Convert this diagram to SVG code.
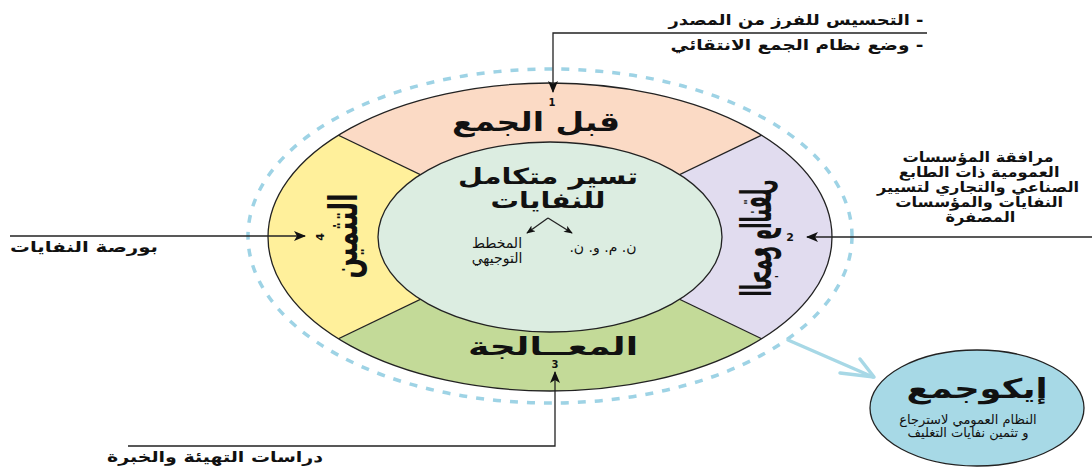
<svg xmlns="http://www.w3.org/2000/svg" width="1092" height="470" viewBox="0 0 1092 470">
<style>
text{font-family:"DejaVu Sans",sans-serif;fill:#111;}
.b{font-weight:bold;}
.ln{stroke:#222;stroke-width:1.3;fill:none;}
.seg{stroke:none;}
.div{stroke:#222;stroke-width:1.2;}
</style>
<defs>
<clipPath id="outerClip"><ellipse cx="550" cy="237" rx="282" ry="154"/></clipPath>
<marker id="ah" viewBox="0 0 12 10" refX="11" refY="5" markerWidth="12" markerHeight="10" markerUnits="userSpaceOnUse" orient="auto">
<path d="M0,0 L12,5 L0,10 L3,5 z" fill="#111"/>
</marker>
<marker id="ahs" viewBox="0 0 10 8" refX="9" refY="4" markerWidth="9" markerHeight="7" markerUnits="userSpaceOnUse" orient="auto">
<path d="M0,0 L10,4 L0,8 L2.5,4 z" fill="#111"/>
</marker>
</defs>
<rect width="1092" height="470" fill="#fff"/>

<!-- dashed outer ring -->
<g id="dashed-ring">
<ellipse cx="550" cy="236" rx="302" ry="167" fill="none" stroke="#9ed3e5" stroke-width="3.5" stroke-dasharray="8 9"/>
</g>

<!-- ring segments -->
<g id="ring" clip-path="url(#outerClip)">
<polygon id="seg-top" class="seg" fill="#fbdac5" points="550,237 126,33 126,-60 974,-60 974,33"/>
<polygon id="seg-right" class="seg" fill="#e1dcef" points="550,237 974,33 1000,33 1000,439 970,439"/>
<polygon id="seg-bottom" class="seg" fill="#c3da98" points="550,237 970,439 970,520 130,520 130,439"/>
<polygon id="seg-left" class="seg" fill="#fff09b" points="550,237 130,439 100,439 100,33 126,33"/>
<line class="div" x1="550" y1="237" x2="126" y2="33"/>
<line class="div" x1="550" y1="237" x2="974" y2="33"/>
<line class="div" x1="550" y1="237" x2="130" y2="439"/>
<line class="div" x1="550" y1="237" x2="970" y2="439"/>
</g>
<ellipse cx="550" cy="237" rx="282" ry="154" fill="none" stroke="#222" stroke-width="1.3"/>

<!-- centre -->
<g id="centre">
<ellipse cx="550" cy="237" rx="172" ry="95" fill="#dcede1" stroke="#222" stroke-width="1.3"/>
<text class="b" x="548" y="184" font-size="22" text-anchor="middle" textLength="180" lengthAdjust="spacingAndGlyphs">تسير متكامل</text>
<text class="b" x="548" y="208" font-size="22" text-anchor="middle" textLength="115" lengthAdjust="spacingAndGlyphs">للنفايات</text>
<text x="603" y="252" font-size="14" text-anchor="middle" direction="rtl">ن. م. و. ن.</text>
<text x="497" y="248" font-size="14" text-anchor="middle">المخطط</text>
<text x="497" y="263" font-size="14" text-anchor="middle">التوجيهي</text>
</g>

<g id="seg-top-label">
<text class="b" x="536" y="131" font-size="26" text-anchor="middle" textLength="168" lengthAdjust="spacingAndGlyphs">قبل الجمع</text>
<text class="b" x="552" y="106" font-size="10" text-anchor="middle">1</text>
</g>
<g id="seg-right-label">
<text class="b" transform="matrix(0,1,1,0,771,238)" x="0" y="0" font-size="42" text-anchor="middle" textLength="117" lengthAdjust="spacingAndGlyphs">الجمع والنقل</text>
<text class="b" x="790" y="241" font-size="11" text-anchor="middle">2</text>
</g>
<g id="seg-bottom-label">
<text class="b" x="553" y="355" font-size="25" text-anchor="middle" textLength="170" lengthAdjust="spacingAndGlyphs">المعــالجة</text>
<text class="b" x="555" y="368" font-size="10" text-anchor="middle">3</text>
</g>
<g id="seg-left-label">
<text class="b" transform="translate(357,236) rotate(-90)" x="0" y="0" font-size="40" text-anchor="middle" textLength="85" lengthAdjust="spacingAndGlyphs">التثمين</text>
<text class="b" transform="translate(320,237) rotate(-90)" x="0" y="4" font-size="11" text-anchor="middle">4</text>
</g>

<!-- external labels -->
<g id="label-top">
<text class="b" x="796" y="25" font-size="15" text-anchor="middle" direction="rtl" textLength="255" lengthAdjust="spacingAndGlyphs">- التحسيس للفرز من المصدر</text>
<text class="b" x="797" y="50" font-size="15" text-anchor="middle" direction="rtl" textLength="253" lengthAdjust="spacingAndGlyphs">- وضع نظام الجمع الانتقائي</text>
</g>
<g id="label-right" transform="translate(978,0) scale(1.16,1)">
<text class="b" x="0" y="162" font-size="14" text-anchor="middle">مرافقة المؤسسات</text>
<text class="b" x="1" y="177" font-size="14" text-anchor="middle">العمومية ذات الطابع</text>
<text class="b" x="0" y="192" font-size="14" text-anchor="middle">الصناعي والتجاري لتسيير</text>
<text class="b" x="1" y="207" font-size="14" text-anchor="middle">النفايات والمؤسسات</text>
<text class="b" x="2" y="222" font-size="14" text-anchor="middle">المصفرة</text>
</g>
<g id="label-left">
<text class="b" x="84" y="252" font-size="15" text-anchor="middle" textLength="148" lengthAdjust="spacingAndGlyphs">بورصة النفايات</text>
</g>
<g id="label-bottom">
<text class="b" x="215" y="462" font-size="15" text-anchor="middle" textLength="216" lengthAdjust="spacingAndGlyphs">دراسات التهيئة والخبرة</text>
</g>

<!-- Ecojamaa -->
<g id="ecojamaa">
<ellipse cx="977" cy="408" rx="107" ry="58" fill="#a7d9e6" stroke="#222" stroke-width="1.3"/>
<text class="b" x="977" y="398" font-size="27" text-anchor="middle" textLength="141" lengthAdjust="spacingAndGlyphs">إيكوجمع</text>
<text x="968" y="424" font-size="13" text-anchor="middle">النظام العمومي لاسترجاع</text>
<text x="968" y="437" font-size="13" text-anchor="middle">و تثمين نفايات التغليف</text>
</g>

<!-- connectors -->
<g id="connectors">
<polyline class="ln" points="927,33 553,33 553,92" marker-end="url(#ah)"/>
<line class="ln" x1="1092" y1="237" x2="807" y2="237" marker-end="url(#ah)"/>
<polyline class="ln" points="128,446 555,446 555,372" marker-end="url(#ah)"/>
<line class="ln" x1="10" y1="236" x2="305" y2="236" marker-end="url(#ah)"/>
<line class="ln" x1="548" y1="218" x2="527" y2="233" marker-end="url(#ahs)"/>
<line class="ln" x1="548" y1="218" x2="572" y2="233" marker-end="url(#ahs)"/>
<g stroke="#a7d8e6" stroke-width="3.5" fill="none" stroke-linecap="round" stroke-linejoin="round">
<line x1="788" y1="340" x2="873" y2="377"/>
<polyline points="860,359 874,377 840,373"/>
</g>
</g>
</svg>
